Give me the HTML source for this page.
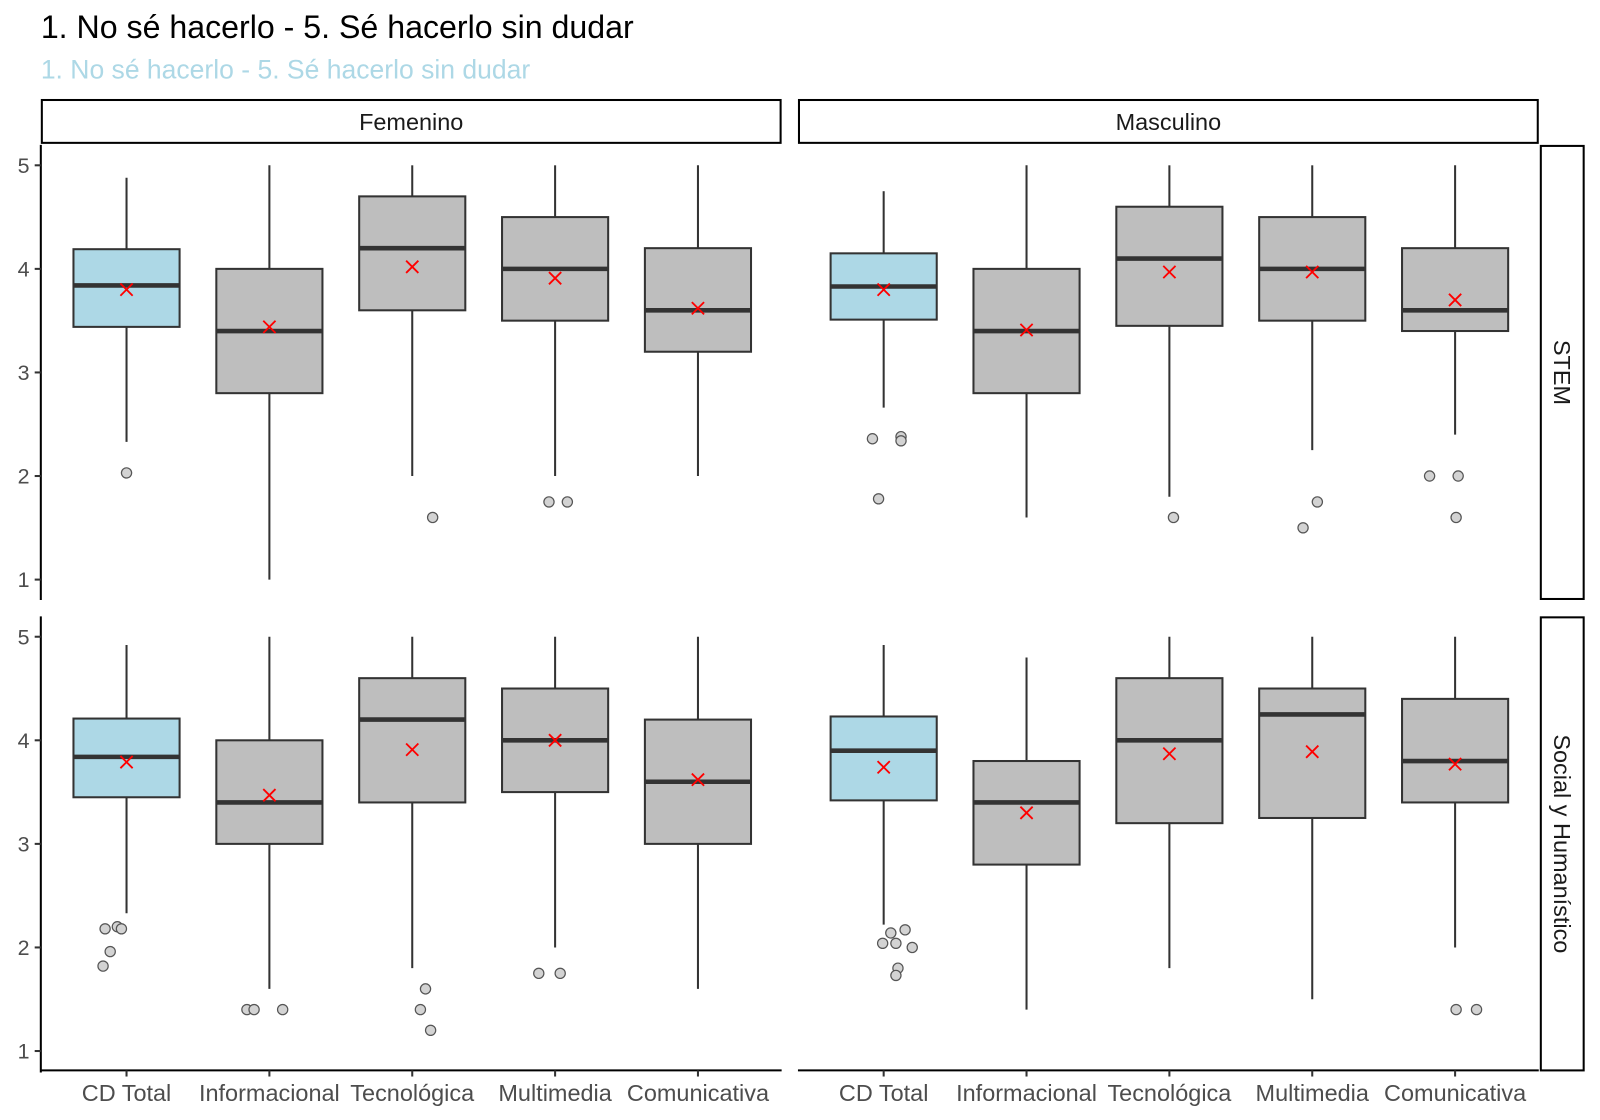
<!DOCTYPE html>
<html><head><meta charset="utf-8"><style>
body{margin:0;background:#fff;}
svg{display:block;font-family:"Liberation Sans",sans-serif;}
</style></head><body>
<svg id="chart" width="1600" height="1120" viewBox="0 0 1568 1097.6" preserveAspectRatio="none">
<text x="40" y="37" font-size="31.5" fill="#000">1. No sé hacerlo - 5. Sé hacerlo sin dudar</text>
<text x="40" y="77" font-size="26" fill="#add8e6">1. No sé hacerlo - 5. Sé hacerlo sin dudar</text>
</svg>
<script>
const categories=["CD Total","Informacional","Tecnológica","Multimedia","Comunicativa"];
const genders=["Femenino","Masculino"];
const rows=["STEM","Social y Humanístico"];
const yTicks=[1,2,3,4,5];
// [panel][category] = [lowWhisker,q1,median,q3,highWhisker]
const boxStats=[
 [[2.33,3.44,3.84,4.19,4.88],[1,2.8,3.4,4.0,5],[2,3.6,4.2,4.7,5],[2,3.5,4.0,4.5,5],[2,3.2,3.6,4.2,5]],
 [[2.66,3.51,3.83,4.15,4.75],[1.6,2.8,3.4,4.0,5],[1.8,3.45,4.1,4.6,5],[2.25,3.5,4.0,4.5,5],[2.4,3.4,3.6,4.2,5]],
 [[2.33,3.45,3.84,4.21,4.92],[1.6,3.0,3.4,4.0,5],[1.8,3.4,4.2,4.6,5],[2,3.5,4.0,4.5,5],[1.6,3.0,3.6,4.2,5]],
 [[2.22,3.42,3.90,4.23,4.92],[1.4,2.8,3.4,3.8,4.8],[1.8,3.2,4.0,4.6,5],[1.5,3.25,4.25,4.5,5],[2,3.4,3.8,4.4,5]]
];
const means=[[3.80,3.44,4.02,3.91,3.62],[3.80,3.41,3.97,3.97,3.70],[3.79,3.47,3.91,4.0,3.62],[3.74,3.30,3.87,3.89,3.77]];
const outliers=[
 [[2.03],[],[1.6],[1.75,1.75],[]],
 [[2.36,2.38,2.34,1.78],[],[1.6],[1.75,1.5],[2,2,1.6]],
 [[2.18,2.2,2.18,1.96,1.82],[1.4,1.4,1.4],[1.6,1.4,1.2],[1.75,1.75],[]],
 [[2.14,2.17,2.04,2.0,2.04,1.8,1.73],[],[],[],[1.4,1.4]]
];
const jitter=[
 [[0],[],[20],[-6,12],[]],
 [[-11,17,17,-5],[],[4],[5,-9],[-25,3,1]],
 [[-21,-9,-5,-16,-23],[-22,-15,13],[13,8,18],[-16,5],[]],
 [[7,21,12,28,-1,14,12],[],[],[],[1,21]]
];
const svg=document.getElementById('chart');
const NS='http://www.w3.org/2000/svg';
function el(tag,attrs,parent){const e=document.createElementNS(NS,tag);for(const k in attrs)e.setAttribute(k,attrs[k]);(parent||svg).appendChild(e);return e;}
const panelX=[40,782], panelW=726;
const rowY=[142,604], rowH=446;
function xPos(p,i){return panelX[p]+84+i*140;}
function yPos(r,v){return rowY[r]+20+(5-v)*101.5;}
genders.forEach((g,p)=>{
 const s=el('rect',{x:panelX[p]+1,y:98,width:panelW-2,height:42,fill:'#fff',stroke:'#000','stroke-width':2});
 
 
 const t=el('text',{x:panelX[p]+panelW/2,y:127.5,'text-anchor':'middle','font-size':23,fill:'#1a1a1a'});
 t.textContent=g;
 
 
});
rows.forEach((r,ri)=>{
 const s=el('rect',{x:1510,y:rowY[ri]+1,width:42,height:rowH-2,fill:'#fff',stroke:'#000','stroke-width':2});
 
 
 const cy=rowY[ri]+rowH/2;
 const t=el('text',{x:1523,y:cy,'text-anchor':'middle','font-size':23,fill:'#1a1a1a',transform:`rotate(90 1523 ${cy})`});
 t.textContent=r;
 
 
});
rows.forEach((r,ri)=>{
 const a=el('line',{x1:40,x2:40,y1:rowY[ri],y2:rowY[ri]+rowH+(ri==1?1:0),stroke:'#000','stroke-width':2});
 
 
 yTicks.forEach(v=>{
  const y=yPos(ri,v);
  el('line',{x1:34,x2:40,y1:y,y2:y,stroke:'#333','stroke-width':2});
  const t=el('text',{x:29,y:y+7.5,'text-anchor':'end','font-size':21,fill:'#4d4d4d'});
  t.textContent=v;
  
  
 });
});
genders.forEach((g,p)=>{
 const a=el('line',{x1:panelX[p],x2:panelX[p]+panelW,y1:1049,y2:1049,stroke:'#000','stroke-width':2});
 
 
 categories.forEach((c,i)=>{
  const x=xPos(p,i);
  el('line',{x1:x,x2:x,y1:1049,y2:1055,stroke:'#333','stroke-width':2});
  const t=el('text',{x:x,y:1079,'text-anchor':'middle','font-size':23,fill:'#4d4d4d'});
  t.textContent=c;
  
  
 });
});
for(let pi=0;pi<4;pi++){
 const r=Math.floor(pi/2), p=pi%2;
 categories.forEach((c,i)=>{
  const st=boxStats[pi][i], x=xPos(p,i), Y=v=>yPos(r,v);
  const g=el('g',{});
  
  
  el('line',{x1:x,x2:x,y1:Y(st[0]),y2:Y(st[1]),stroke:'#333','stroke-width':2},g);
  el('line',{x1:x,x2:x,y1:Y(st[3]),y2:Y(st[4]),stroke:'#333','stroke-width':2},g);
  el('rect',{x:x-52,y:Y(st[3]),width:104,height:Y(st[1])-Y(st[3]),fill:i==0?'#add8e6':'#bebebe',stroke:'#333','stroke-width':2},g);
  el('line',{x1:x-52,x2:x+52,y1:Y(st[2]),y2:Y(st[2]),stroke:'#333','stroke-width':4.5},g);
  outliers[pi][i].forEach((v,k)=>{
   const o=el('circle',{cx:x+jitter[pi][i][k],cy:Y(v),r:5,fill:'#d3d3d3',stroke:'#555','stroke-width':1.2});
   
   
  });
  const m=Y(means[pi][i]);
  const mk=el('path',{d:`M${x-6} ${m-6}L${x+6} ${m+6}M${x-6} ${m+6}L${x+6} ${m-6}`,stroke:'#ff0000','stroke-width':1.8});
  
  
 });
}
</script>
</body></html>
